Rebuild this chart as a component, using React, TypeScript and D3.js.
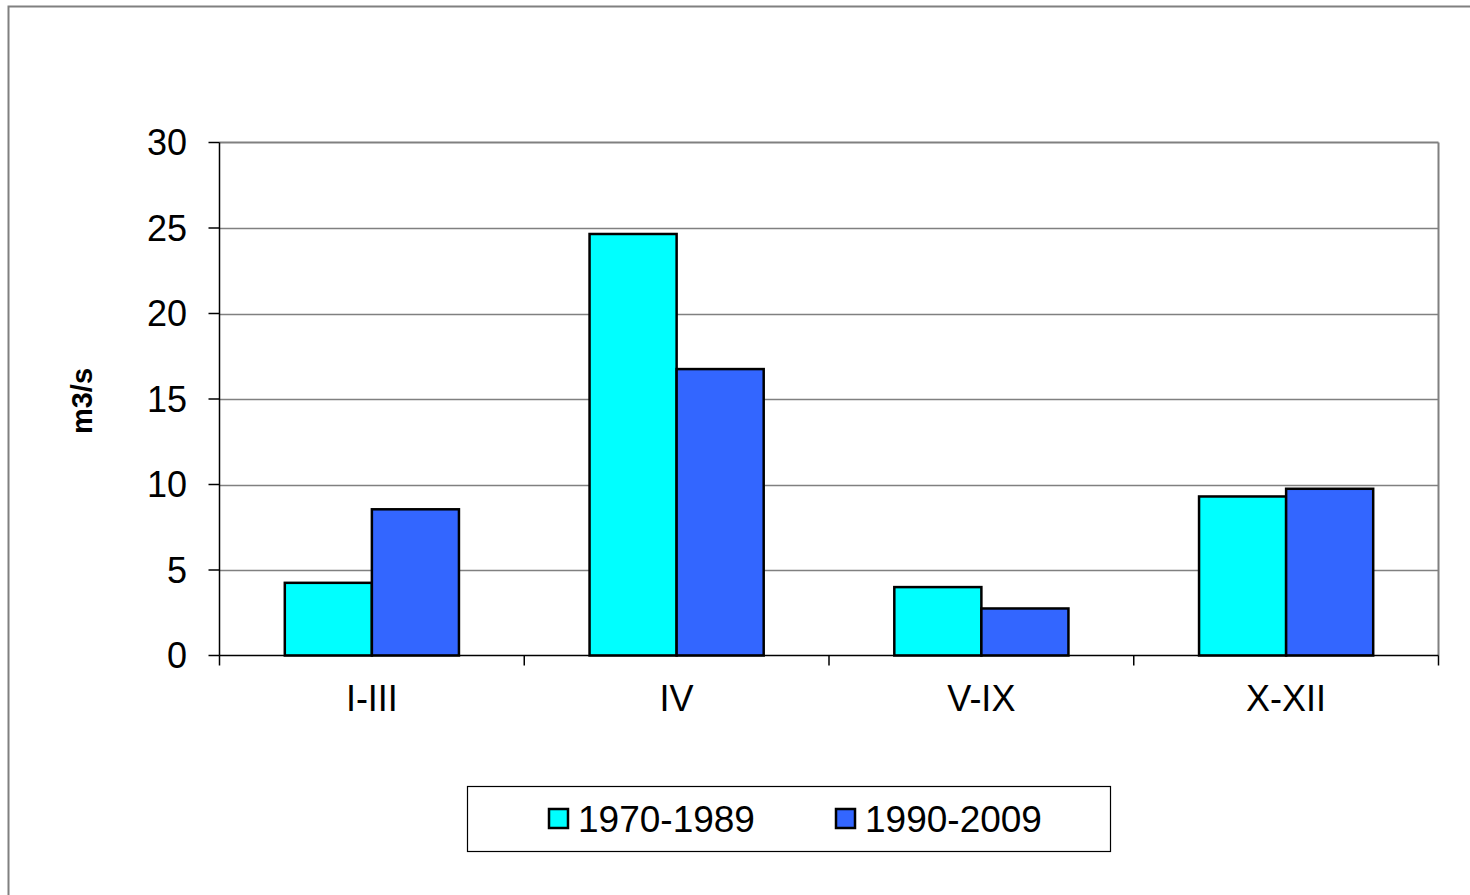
import React from "react";
import * as d3 from "d3";

const categories = ["I-III", "IV", "V-IX", "X-XII"];
const seriesNames = ["1970-1989", "1990-2009"];
const series1970 = [4.25, 24.65, 4.0, 9.3];
const series1990 = [8.55, 16.75, 2.75, 9.75];
const seriesColors = ["#00FFFF", "#3366FF"];
const yTicks = [0, 5, 10, 15, 20, 25, 30];

export default function App() {
  const W = 1470, H = 895;
  const left = 219.5, right = 1438.5, top = 142.5, bottom = 655.5;
  const x = d3.scaleBand<string>().domain(categories).range([left, right]).paddingInner(0).paddingOuter(0);
  const y = d3.scaleLinear().domain([0, 30]).range([bottom, top]);
  const bw = x.bandwidth();
  const barW = bw / 3.5;
  const gap = (bw - 2 * barW) / 2;
  const inner = d3.scaleBand<number>().domain([0, 1]).range([gap, gap + 2 * barW]);
  const data = [series1970, series1990];
  const font = "Arial, 'Liberation Sans', sans-serif";

  return (
    <svg width={W} height={H} style={{ position: "absolute", left: 0, top: 0, background: "#fff" }} fontFamily={font}>
      <rect x={8.5} y={6.5} width={1600} height={1000} fill="#fff" stroke="#808080" strokeWidth={2} />
      {yTicks.filter(t => t > 0 && t < 30).map(t => (
        <line key={t} x1={left} x2={right} y1={Math.round(y(t)) + 0.5} y2={Math.round(y(t)) + 0.5} stroke="#808080" strokeWidth={1.5} />
      ))}
      <line x1={left} x2={right} y1={top} y2={top} stroke="#808080" strokeWidth={2} />
      <line x1={right} x2={right} y1={top} y2={bottom} stroke="#808080" strokeWidth={2} />
      {categories.map((c, i) =>
        data.map((s, j) => (
          <rect key={c + j}
            x={(x(c) as number) + (inner(j) as number)}
            y={y(s[i])}
            width={barW}
            height={bottom - y(s[i])}
            fill={seriesColors[j]} stroke="#000" strokeWidth={2.5} />
        ))
      )}
      <line x1={left} x2={left} y1={top} y2={bottom} stroke="#000" strokeWidth={1.5} />
      <line x1={left} x2={right} y1={bottom} y2={bottom} stroke="#000" strokeWidth={1.5} />
      {yTicks.map(t => (
        <g key={t}>
          <line x1={left - 11} x2={left} y1={y(t)} y2={y(t)} stroke="#000" strokeWidth={1.5} />
          <text x={187} y={y(t)} dy="0.36em" textAnchor="end" fontSize={36} fill="#000">{t}</text>
        </g>
      ))}
      {[...categories.map(c => x(c) as number), right].map((v, i) => (
        <line key={i} x1={v} x2={v} y1={bottom} y2={bottom + 10} stroke="#000" strokeWidth={1.5} />
      ))}
      {categories.map(c => (
        <text key={c} x={(x(c) as number) + bw / 2} y={711} textAnchor="middle" fontSize={36} fill="#000">{c}</text>
      ))}
      <text transform="translate(92,401) rotate(-90)" textAnchor="middle" fontSize={29} fontWeight="bold" fill="#000">m3/s</text>
      <rect x={467.5} y={786.5} width={643} height={65} fill="#fff" stroke="#000" strokeWidth={1.2} />
      {seriesNames.map((n, j) => {
        const sx = j === 0 ? 549 : 836;
        return (
          <g key={n}>
            <rect x={sx} y={809} width={19} height={19} fill={seriesColors[j]} stroke="#000" strokeWidth={2.5} />
            <text x={sx + 29} y={832} fontSize={37} fill="#000">{n}</text>
          </g>
        );
      })}
    </svg>
  );
}
